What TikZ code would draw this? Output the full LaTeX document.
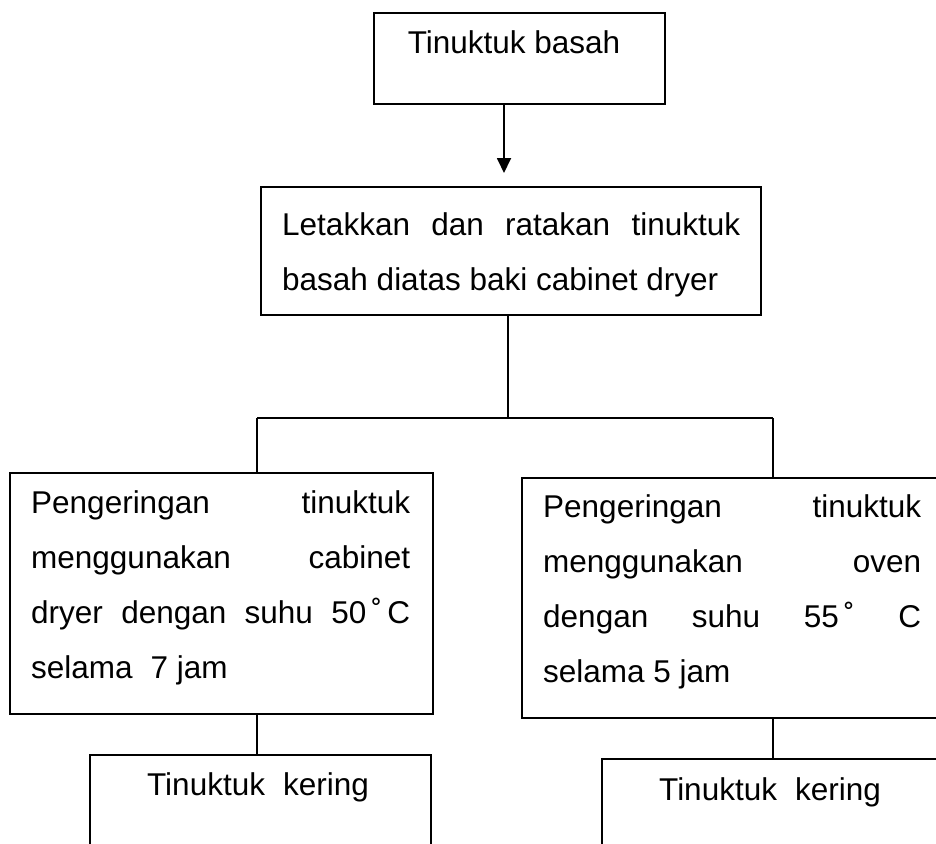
\documentclass[tikz,border=0pt]{standalone}
\usepackage{fontspec}
\setmainfont{Liberation Sans}
\usetikzlibrary{arrows.meta,calc}
\tikzset{
  box/.style={draw, line width=2.2pt, inner sep=0pt, anchor=north west},
  txt/.style={font=\fontsize{31.5pt}{55pt}\selectfont, inner sep=0pt, align=left, anchor=base west},
  ctxt/.style={font=\fontsize{31.5pt}{55pt}\selectfont, inner sep=0pt, anchor=base},
  link/.style={line width=1.5pt},
  arr/.style={line width=1.8pt, -{Triangle[length=15pt,width=14pt]}}
}
\begin{document}
\begin{tikzpicture}[x=1pt,y=-1pt]
\useasboundingbox (0,0) rectangle (936,843);
\clip (0,0) rectangle (936,843);
% boxes
\node[box, minimum width=291pt, minimum height=91pt] (top) at (373,12) {};
\node[box, minimum width=500pt, minimum height=128pt] (mid) at (260,186) {};
\node[box, minimum width=423pt, minimum height=241pt] (left) at (9,472) {};
\node[box, minimum width=424pt, minimum height=240pt] (right) at (521,477) {};
\node[box, minimum width=341pt, minimum height=150pt] (lbot) at (89,754) {};
\node[box, minimum width=344pt, minimum height=150pt] (rbot) at (601,758) {};
% texts (base anchor = baseline of the last line)
\node[ctxt] (ttop) at (514,53) {Tinuktuk basah};
\node[txt] (tmid) at (282,290) {\makebox[458pt][s]{Letakkan dan ratakan tinuktuk}\\basah diatas baki cabinet dryer};
\node[txt] (tleft) at (31,678) {\makebox[379pt][s]{Pengeringan tinuktuk}\\\makebox[379pt][s]{menggunakan cabinet}\\\makebox[379pt][s]{dryer dengan suhu 50\,˚\,C}\\selama\hspace{18pt}7 jam};
\node[txt] (tright) at (543,682) {\makebox[378pt][s]{Pengeringan tinuktuk}\\\makebox[378pt][s]{menggunakan oven}\\\makebox[378pt][s]{dengan suhu 55\,˚ C}\\selama 5 jam};
\node[ctxt] (tlbot) at (258,795) {Tinuktuk\hspace{18pt}kering};
\node[ctxt] (trbot) at (770,800) {Tinuktuk\hspace{18pt}kering};
% junctions
\coordinate (ja) at (504,103);
\coordinate (jM) at (508,418);
\coordinate (jL) at (257,418);
\coordinate (jR) at (773,418);
% connectors
\draw[arr] (ja |- top.south) -- ($(ja |- mid.north)+(0,-13)$);
\draw[link, line width=2pt] (jM |- mid.south) -- (jM);
\draw[link] (jL) -- (jR);
\draw[link] (jL) -- (jL |- left.north);
\draw[link] (jR) -- (jR |- right.north);
\draw[link] (jL |- left.south) -- (jL |- lbot.north);
\draw[link] (jR |- right.south) -- (jR |- rbot.north);
\end{tikzpicture}
\end{document}
